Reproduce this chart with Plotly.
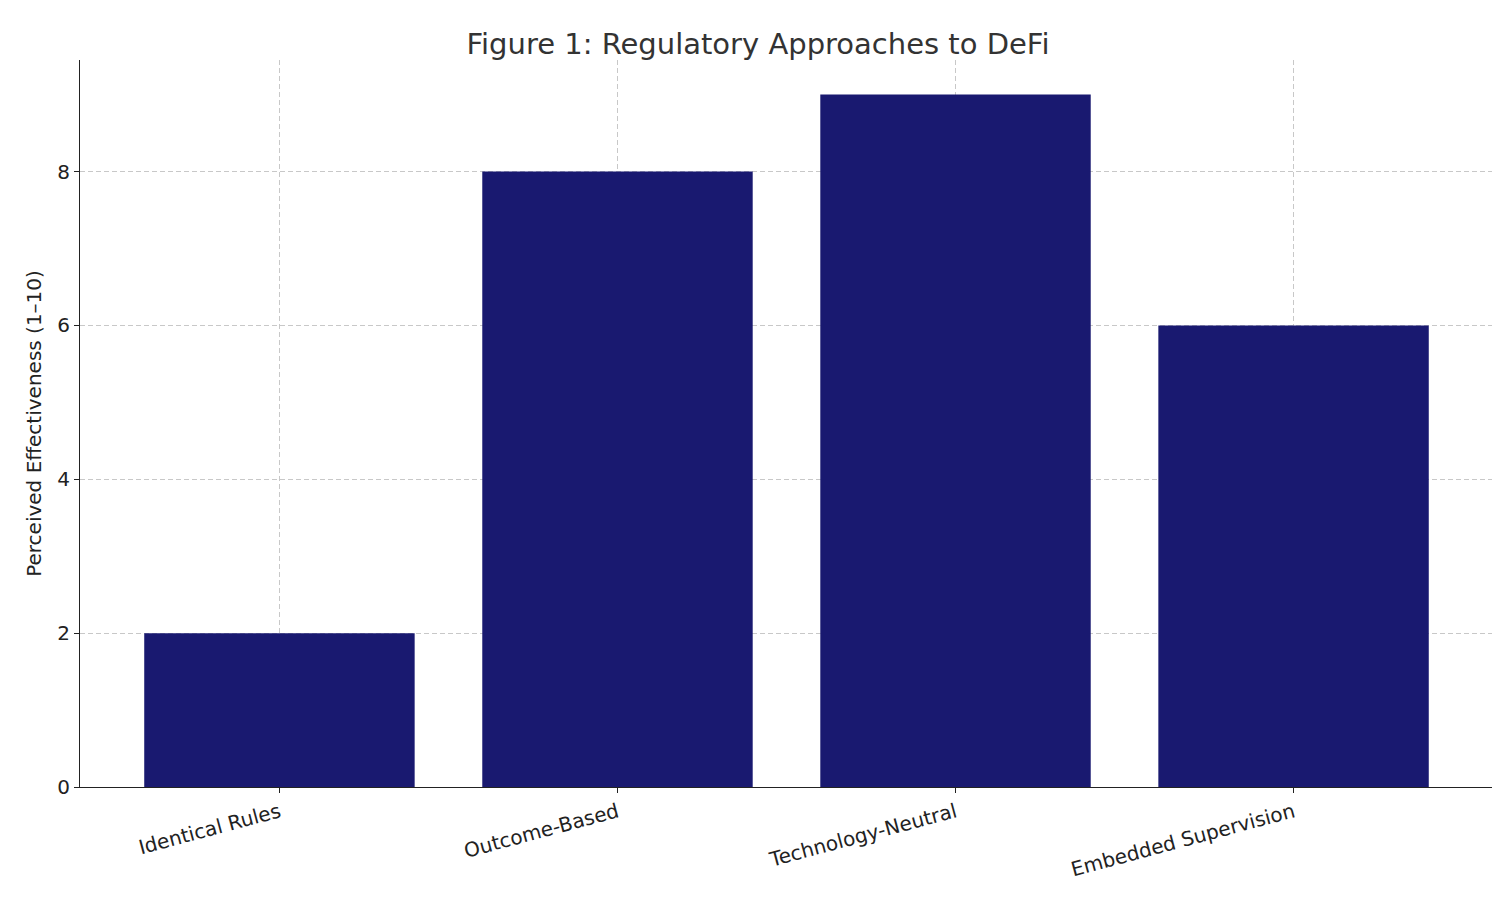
import plotly.graph_objects as go

categories = ["Identical Rules", "Outcome-Based", "Technology-Neutral", "Embedded Supervision"]
effectiveness = [2, 8, 9, 6]
yticks = [0, 2, 4, 6, 8]

fig = go.Figure()
fig.add_trace(go.Bar(
    x=list(range(len(categories))),
    y=effectiveness,
    width=0.8,
    marker=dict(color="#191970", line=dict(width=0)),
))

grid = dict(showgrid=True, gridcolor="rgba(176,176,176,0.7)", griddash="5px,3px", gridwidth=1)

fig.update_xaxes(
    range=[-0.59, 3.59], tickmode="array",
    tickvals=list(range(len(categories))), ticktext=categories,
    tickangle=-15, ticks="outside", ticklen=5, tickcolor="#222",
    showline=True, linecolor="#222", linewidth=1.2, zeroline=False,
    tickfont=dict(size=20, color="#222"), **grid,
)
fig.update_yaxes(
    range=[0, 9.45], tickvals=yticks,
    ticks="outside", ticklen=5, tickcolor="#222",
    showline=True, linecolor="#222", linewidth=1.2, zeroline=False,
    tickfont=dict(size=20, color="#222"),
    title=dict(text="Perceived Effectiveness (1–10)", font=dict(size=20, color="#222"), standoff=10),
    **grid,
)

fig.update_layout(
    title=dict(text="Figure 1: Regulatory Approaches to DeFi", x=0.5, xanchor="center",
               y=0.96, yanchor="middle", font=dict(size=29, color="#333")),
    font=dict(family="DejaVu Sans"),
    plot_bgcolor="white", paper_bgcolor="white",
    width=1500, height=900,
    margin=dict(l=72, r=15, t=52, b=121),
    showlegend=False,
)

fig.write_html("out.html")
